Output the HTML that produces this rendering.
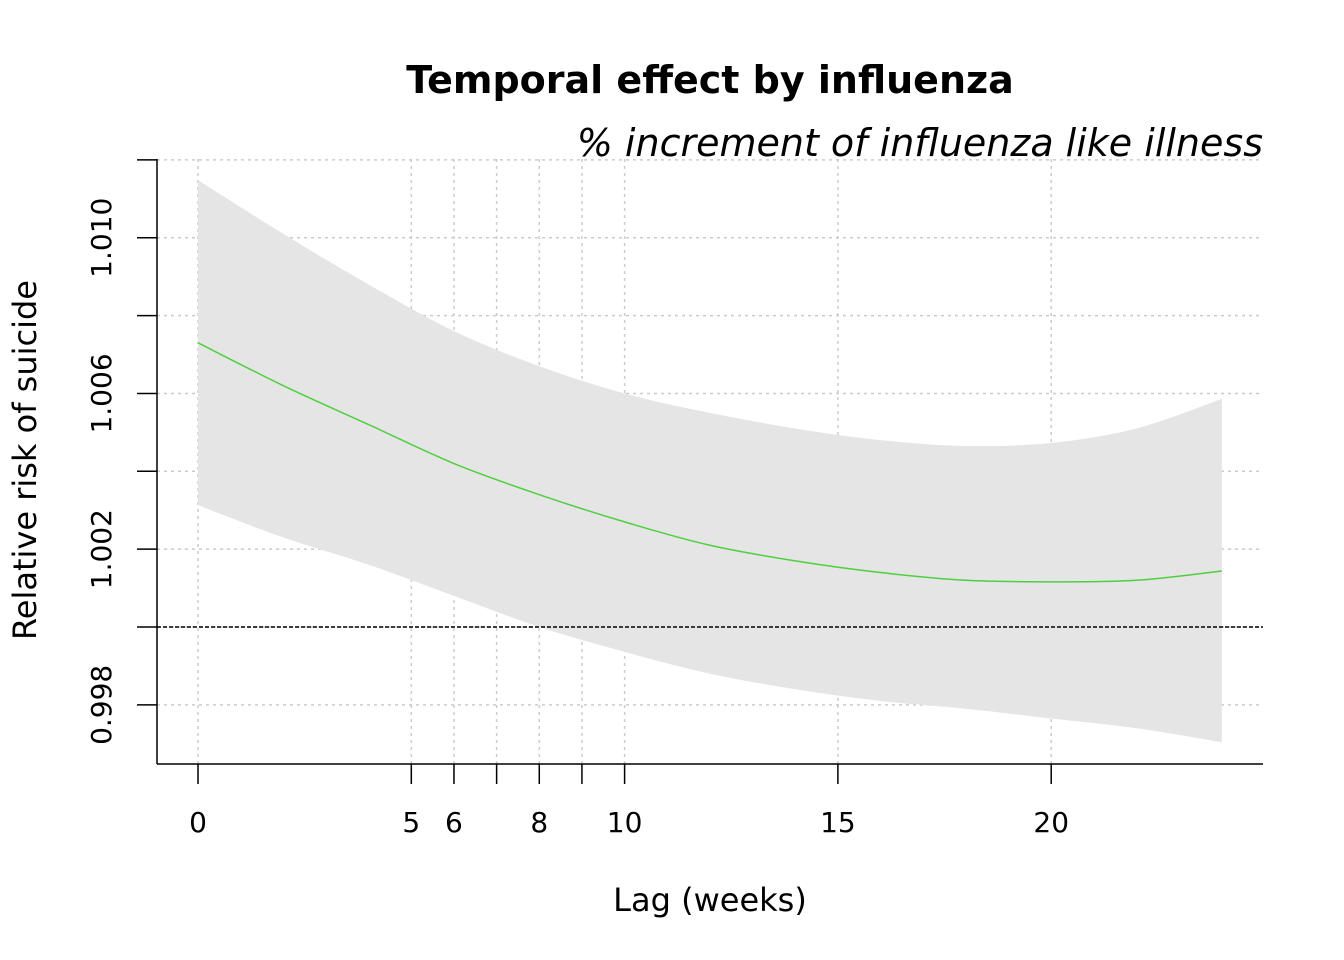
<!DOCTYPE html>
<html><head><meta charset="utf-8"><style>
html,body{margin:0;padding:0;background:#fff;}
svg{display:block;font-family:"DejaVu Sans","Liberation Sans",sans-serif;}
</style></head><body>
<svg id="chart" width="1344" height="960">
<text x="710" y="93" text-anchor="middle" font-size="38" font-weight="bold">Temporal effect by influenza</text>
<text x="1263" y="156" text-anchor="end" font-size="38" font-style="italic">% increment of influenza like illness</text>
<text x="710" y="911" text-anchor="middle" font-size="32">Lag (weeks)</text>
<text transform="translate(36,460) rotate(-90)" text-anchor="middle" font-size="32">Relative risk of suicide</text>
<g id="grid"></g><g id="band"></g><g id="lines"></g><g id="axes"></g>
</svg>
<script>
const lags=[0,2,4,6,8,10,12,14,16,18,20,22,24];
const fitValues=[0.0073,0.0062,0.0052,0.0042,0.0034,0.0027,0.0021,0.0017,0.0014,0.0012,0.00116,0.0012,0.00144];
const upperValues=[0.01148,0.0101,0.0088,0.0076,0.0067,0.0060,0.0055,0.0051,0.0048,0.00465,0.00473,0.0051,0.00586];
const lowerValues=[0.00313,0.0023,0.0016,0.0008,0.0000,-0.00064,-0.0012,-0.0016,-0.0019,-0.0021,-0.00235,-0.0026,-0.00296];
const xTicks=[0,5,6,7,8,9,10,15,20];
const xTickLabels=["0","5","6","","8","","10","15","20"];
const yTicks=[0.998,1.000,1.002,1.004,1.006,1.008,1.010,1.012];
const yTickLabels=["0.998","","1.002","","1.006","","1.010",""];
const NS="http://www.w3.org/2000/svg";
const xs=v=>198+v*42.66;
const ys=v=>627-(v-1)*38925;
function mk(tag,attrs,parent){const e=document.createElementNS(NS,tag);for(const k in attrs)e.setAttribute(k,attrs[k]);document.getElementById(parent).appendChild(e);return e;}
function segs(pts){let d="";for(let i=0;i<pts.length-1;i++){const p0=pts[Math.max(i-1,0)],p1=pts[i],p2=pts[i+1],p3=pts[Math.min(i+2,pts.length-1)];const c1=[p1[0]+(p2[0]-p0[0])/6,p1[1]+(p2[1]-p0[1])/6],c2=[p2[0]-(p3[0]-p1[0])/6,p2[1]-(p3[1]-p1[1])/6];d+=" C"+c1+" "+c2+" "+p2;}return d;}
xTicks.forEach(t=>{const l=mk('line',{x1:xs(t),x2:xs(t),y1:159,y2:764,stroke:'#ccc','stroke-width':1.5,'stroke-dasharray':'3,4'},'grid');

});
yTicks.forEach(t=>{const l=mk('line',{x1:157,x2:1263,y1:ys(t),y2:ys(t),stroke:'#ccc','stroke-width':1.5,'stroke-dasharray':'3,4'},'grid');

});
const up=lags.map((l,i)=>[xs(l),ys(1+upperValues[i])]);
const lo=lags.map((l,i)=>[xs(l),ys(1+lowerValues[i])]).reverse();
const d="M"+up[0]+segs(up)+" L"+lo[0]+segs(lo)+" Z";
const band=mk('path',{d:d,fill:'#e5e5e5',stroke:'none'},'band');


const ref=mk('line',{x1:157,x2:1263,y1:ys(1),y2:ys(1),stroke:'#000','stroke-width':1.5,'stroke-dasharray':'4,2'},'lines');


const fp=lags.map((l,i)=>[xs(l),ys(1+fitValues[i])]);
const fit=mk('path',{d:"M"+fp[0]+segs(fp),fill:'none',stroke:'#4fcf3f','stroke-width':1.5},'lines');


const xa=mk('line',{x1:157,x2:1263,y1:764,y2:764,stroke:'#000','stroke-width':1.5},'axes');


const ya=mk('line',{x1:157,x2:157,y1:159,y2:764,stroke:'#000','stroke-width':1.5},'axes');


xTicks.forEach((t,i)=>{const l=mk('line',{x1:xs(t),x2:xs(t),y1:764,y2:784,stroke:'#000','stroke-width':1.5},'axes');


if(xTickLabels[i]){const tx=mk('text',{x:xs(t),y:832,'text-anchor':'middle','font-size':28},'axes');tx.textContent=xTickLabels[i];

}});
yTicks.forEach((t,i)=>{const l=mk('line',{x1:137,x2:157,y1:ys(t),y2:ys(t),stroke:'#000','stroke-width':1.5},'axes');


if(yTickLabels[i]){const tx=mk('text',{transform:`translate(111,${ys(t)}) rotate(-90)`,'text-anchor':'middle','font-size':28},'axes');tx.textContent=yTickLabels[i];

}});
</script>
</body></html>
